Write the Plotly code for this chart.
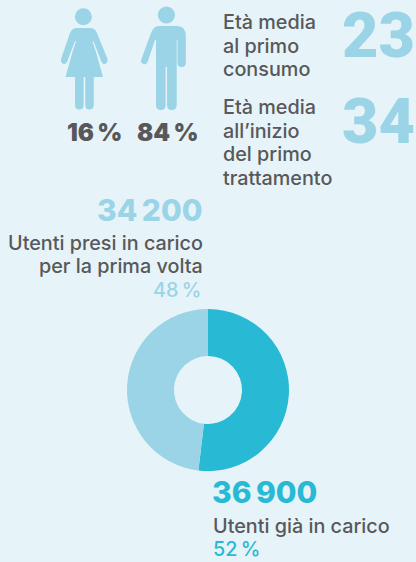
import plotly.graph_objects as go

labels = ["Utenti già in carico", "Utenti presi in carico per la prima volta"]
values = [36900, 34200]
BG, LIGHT, CYAN, GREY = "#E6F4F9", "#9AD4E6", "#28B9D5", "#58585A"
W, H = 416, 562
BODY = "Inter"
NUM = "Inter"
SLAB = "Roboto"

fig = go.Figure(go.Pie(
    labels=labels, values=values, hole=0.42, sort=False, direction="clockwise", rotation=0,
    marker=dict(colors=[CYAN, LIGHT], line=dict(width=0)), textinfo="none", hoverinfo="label+value",
    domain=dict(x=[127/W, 289/W], y=[1-471/H, 1-309/H]), showlegend=False))

def circle(cx, cy, r):
    return dict(type="circle", xref="x", yref="y", x0=cx-r, x1=cx+r, y0=cy-r, y1=cy+r, fillcolor=LIGHT, line_width=0, layer="below")
def path(d):
    return dict(type="path", xref="x", yref="y", path=d, fillcolor=LIGHT, line_width=0, layer="below")

female = ("M77 28 L90 28 Q95 28 97 33 L107.5 59 Q108 63 105 64 Q102.5 64.5 101.5 62 L93.5 41 L92.5 41.5 L96 52 L103 77 "
          "L93.8 77 L93.8 105 Q93.8 109.5 89.5 109.5 Q85.3 109.5 85.3 105 L85.3 77 L83.6 77 L83.6 105 Q83.6 109.5 79.3 109.5 "
          "Q75 109.5 75 105 L75 77 L65.5 77 L72.5 52 L76 41.5 L75 41 L67 62 Q66 64.5 63.5 64 Q60.5 63 61 59 L70 33 Q72 28 77 28 Z")
male = ("M159 26 L177 26 Q185.8 26 185.8 36 L185.8 63 Q185.8 67 181.5 67 Q177.5 67 177.5 63 L177.5 40 L176.7 40 L176.7 105 "
        "Q176.7 110 171.8 110 Q167 110 167 105 L167 67 L165.6 67 L165.6 105 Q165.6 110 160.8 110 Q156 110 156 105 L156 40 L155 40 "
        "L147.8 61.5 Q146.5 65 143.5 64 Q140 63 141.5 59 L151 33 Q153.5 26 159 26 Z")
shapes = [circle(83.4, 16.7, 8.5), path(female), circle(166.4, 15, 8.6), path(male)]

def t(x, y, s, size, color, anchor="left", family=BODY, weight=500):
    fig.add_annotation(x=x, y=y, xref="x", yref="y", text=s, showarrow=False, xanchor=anchor, yanchor="middle",
                       font=dict(family=family, size=size, color=color, weight=weight), borderpad=0, xshift=0)

for y, s in [(22, "Età media"), (46, "al primo"), (69, "consumo"), (107, "Età media"), (131, "all’inizio"), (154, "del primo"), (178, "trattamento")]:
    t(222, y, s, 19.8, GREY)
t(416, 35, "23", 63, LIGHT, "right", SLAB, 900)
t(416, 121, "34", 63, LIGHT, "right", SLAB, 900)
t(123, 132, "16\u2009%", 24, GREY, "right", NUM, 900)
t(199, 132, "84\u2009%", 24, GREY, "right", NUM, 900)
t(203, 210, "34\u2009200", 30, LIGHT, "right", NUM, 800)
t(204, 243, "Utenti presi in carico", 19.8, GREY, "right")
t(204, 266, "per la prima volta", 19.8, GREY, "right")
t(203, 290, "48\u2009%", 19.8, LIGHT, "right")
t(211, 492, "36\u2009900", 30, CYAN, "left", NUM, 800)
t(212, 526, "Utenti già in carico", 19.8, GREY)
t(212, 549, "52\u2009%", 19.8, CYAN)

fig.update_layout(width=W, height=H, margin=dict(l=0, r=0, t=0, b=0), paper_bgcolor=BG, plot_bgcolor=BG, shapes=shapes,
    xaxis=dict(range=[0, W], visible=False, fixedrange=True), yaxis=dict(range=[H, 0], visible=False, fixedrange=True))
fig.write_html("out.html", config=dict(displayModeBar=False),
               post_script="document.body.style.margin='0';document.body.style.overflow='hidden';document.body.style.background='#E6F4F9';")
